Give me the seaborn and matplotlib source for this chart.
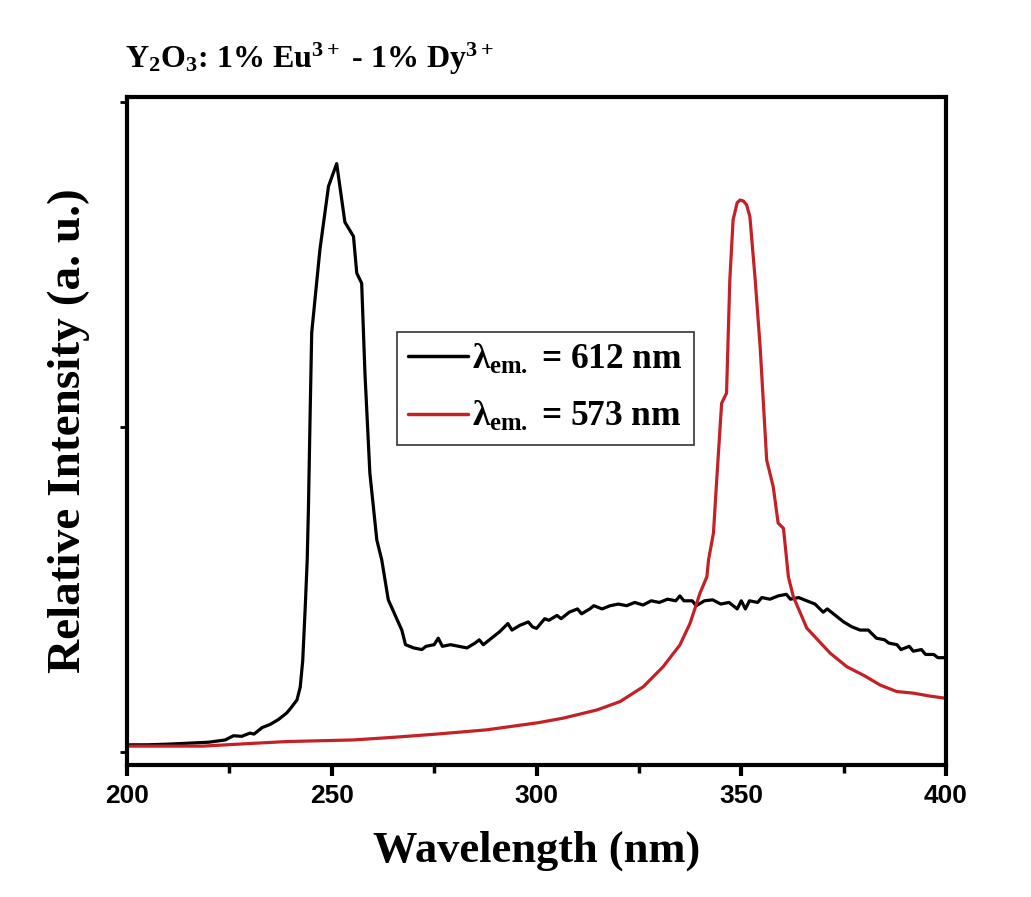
import numpy as np
import pandas as pd
import matplotlib
matplotlib.use('Agg')
import matplotlib.pyplot as plt
import seaborn as sns

wl_612 = [200, 205, 210, 215, 220, 224, 226, 228, 230, 231, 233, 235, 237, 239, 240,
          241.5, 242.3, 242.9, 243.5, 244.0, 244.3, 244.7, 245.1, 247.1, 249.2, 251.2,
          253.2, 255.3, 256.1, 257.3, 258.1, 259.3, 261.0, 262.2, 263.8, 267.1,
          268, 270, 272, 273, 275, 276, 277, 279, 281, 283, 285, 286, 287, 289, 291,
          293, 294, 296, 298, 299, 300, 301, 302, 303, 305, 306, 308, 310, 311, 313,
          314, 316, 318, 320, 322, 324, 326, 328, 330, 332, 334, 335, 336, 338, 339,
          341, 343, 345, 347, 349, 350, 351, 352, 354, 355, 357, 359, 361, 362, 364,
          366, 368, 370, 371, 373, 375, 377, 379, 381, 383, 385, 386, 388, 389, 391,
          392, 394, 395, 397, 398, 400]
int_612 = [0.022, 0.022, 0.024, 0.027, 0.030, 0.037, 0.050, 0.048, 0.058, 0.055, 0.075,
           0.085, 0.100, 0.120, 0.135, 0.160, 0.200, 0.280, 0.440, 0.590, 0.750, 1.030,
           1.290, 1.545, 1.740, 1.810, 1.630, 1.586, 1.473, 1.442, 1.165, 0.858, 0.652,
           0.591, 0.468, 0.375,
           0.330, 0.320, 0.315, 0.325, 0.330, 0.350, 0.325, 0.330, 0.325, 0.320, 0.335,
           0.345, 0.330, 0.350, 0.370, 0.395, 0.375, 0.390, 0.400, 0.385, 0.380, 0.395,
           0.410, 0.405, 0.420, 0.410, 0.430, 0.440, 0.425, 0.440, 0.450, 0.440, 0.450,
           0.455, 0.450, 0.460, 0.452, 0.465, 0.460, 0.470, 0.465, 0.480, 0.465, 0.465,
           0.450, 0.465, 0.468, 0.455, 0.460, 0.440, 0.465, 0.440, 0.465, 0.460, 0.475,
           0.470, 0.480, 0.485, 0.470, 0.475, 0.465, 0.455, 0.430, 0.440, 0.420, 0.400,
           0.385, 0.375, 0.375, 0.350, 0.345, 0.335, 0.330, 0.315, 0.325, 0.310, 0.315,
           0.300, 0.300, 0.290, 0.290]

wl_573 = [200, 210, 218.6, 230, 239, 255.3, 265, 275.6, 287.8, 300.4, 306.5, 314.7,
          320.4, 326.1, 330.9, 335.0, 337.5, 339.9, 341.6, 342.0, 343.2, 344.0, 345.2,
          346.4, 347.2, 348.0, 349.0, 349.7, 350.5, 351.3, 352.1, 353.4, 354.6, 356.2,
          357.8, 359.0, 360.3, 361.5, 362.7, 366.0, 371.7, 375.8, 380, 383.9, 387.9,
          392.0, 396, 400]
int_573 = [0.018, 0.018, 0.018, 0.026, 0.032, 0.037, 0.045, 0.055, 0.068, 0.090, 0.104,
           0.129, 0.155, 0.201, 0.262, 0.329, 0.396, 0.488, 0.539, 0.591, 0.673, 0.837,
           1.073, 1.104, 1.452, 1.637, 1.690, 1.698, 1.695, 1.683, 1.647, 1.452, 1.247,
           0.898, 0.816, 0.704, 0.688, 0.539, 0.478, 0.381, 0.304, 0.262, 0.235, 0.206,
           0.186, 0.181, 0.172, 0.165]

labels = [r'$\lambda_{\mathrm{em.}}$ = 612 nm', r'$\lambda_{\mathrm{em.}}$ = 573 nm']
colors = ['black', '#c42127']

df = pd.concat([
    pd.DataFrame({'Wavelength': wl_612, 'Intensity': int_612, 'series': labels[0]}),
    pd.DataFrame({'Wavelength': wl_573, 'Intensity': int_573, 'series': labels[1]}),
])

sns.set_style('ticks')
plt.rcParams['font.family'] = ['Liberation Serif', 'DejaVu Serif']
plt.rcParams['font.weight'] = 'bold'
plt.rcParams['text.color'] = 'black'
plt.rcParams['axes.labelcolor'] = 'black'
plt.rcParams['xtick.color'] = 'black'
plt.rcParams['ytick.color'] = 'black'
plt.rcParams['mathtext.fontset'] = 'custom'
plt.rcParams['mathtext.rm'] = 'Liberation Serif:bold'
plt.rcParams['mathtext.bf'] = 'Liberation Serif:bold'
plt.rcParams['mathtext.it'] = 'Liberation Serif:bold'

fig = plt.figure(figsize=(10.31, 8.97), dpi=100)
ax = fig.add_axes([0.1232, 0.1472, 0.7944, 0.7447])

sns.lineplot(data=df, x='Wavelength', y='Intensity', hue='series', palette=colors,
             sort=False, estimator=None, linewidth=2.3, ax=ax)

ax.set_xlim(200, 400)
ax.set_ylim(-0.04, 2.015)
ax.set_xticks([200, 250, 300, 350, 400])
ax.set_xticks([225, 275, 325, 375], minor=True)
ax.set_yticks([0, 1, 2])
ax.set_yticklabels([])

for s in ax.spines.values():
    s.set_linewidth(3)
    s.set_color('black')
ax.tick_params(axis='x', which='major', direction='out', length=8, width=3, pad=6)
ax.tick_params(axis='x', which='minor', direction='out', length=6, width=2.5)
ax.tick_params(axis='y', which='major', direction='out', length=5, width=2)
for lab in ax.get_xticklabels():
    lab.set_fontfamily(['Liberation Sans Narrow', 'Liberation Sans'])
    lab.set_fontweight('bold')
    lab.set_fontsize(19)
    lab.set_color('black')

ax.set_xlabel('Wavelength (nm)', fontsize=32, fontweight='bold', labelpad=16)
ax.set_ylabel('Relative Intensity (a. u.)', fontsize=34, fontweight='bold', labelpad=18)

fig.text(0.121, 0.924, r'$\mathrm{Y_2O_3}$: 1% Eu$^{3+}$ - 1% Dy$^{3+}$',
         fontsize=23, fontweight='bold', ha='left', va='baseline')

leg = ax.legend(loc='upper left', bbox_to_anchor=(0.33, 0.648), fontsize=25.5,
                frameon=True, fancybox=False, handlelength=1.7, handletextpad=0.12,
                borderpad=0.3, labelspacing=0.65, borderaxespad=0)
leg.get_frame().set_edgecolor('black')
leg.get_frame().set_linewidth(1.2)
for line in leg.get_lines():
    line.set_linewidth(2.5)

fig.savefig('out.png', dpi=100)
